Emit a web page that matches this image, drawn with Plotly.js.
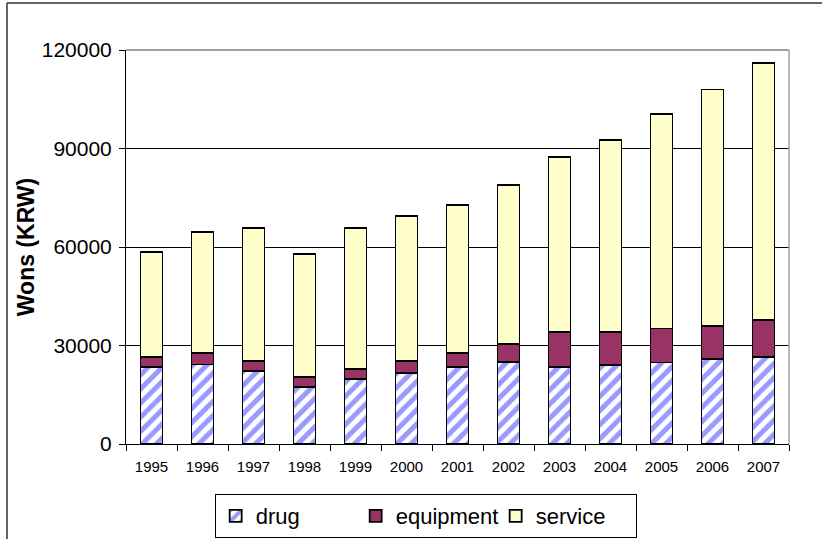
<!DOCTYPE html>
<html>
<head>
<meta charset="utf-8">
<script src="https://cdn.plot.ly/plotly-3.0.1.min.js"></script>
<style>html,body{margin:0;padding:0;background:#fff;}#chart{width:822px;height:539px;}</style>
</head>
<body>
<div id="chart"></div>
<script>
var years = ['1995','1996','1997','1998','1999','2000','2001','2002','2003','2004','2005','2006','2007'];
var drug = [23400,24200,22300,17300,19800,21700,23400,24900,23500,24100,24800,25900,26600];
var equipment = [3200,3500,3100,3200,3000,3600,4400,5500,10600,10000,10400,10000,11200];
var service = [31900,36900,40400,37300,43000,44200,44900,48400,53400,58500,65300,72100,78300];
var yTicks = [0,30000,60000,90000,120000];

var outline = {color:'#000000', width:1.8};
var traces = [
  {type:'bar', name:'drug', x:years, y:drug,
   marker:{color:'#ffffff', line:outline,
     pattern:{shape:'/', fgcolor:'#9999ff', bgcolor:'#ffffff', size:10, solidity:0.5}}},
  {type:'bar', name:'equipment', x:years, y:equipment,
   marker:{color:'#993366', line:outline}},
  {type:'bar', name:'service', x:years, y:service,
   marker:{color:'#ffffcc', line:outline}}
];

var layout = {
  width:822, height:539,
  margin:{l:126, r:33, t:50, b:95, autoexpand:false},
  paper_bgcolor:'#ffffff', plot_bgcolor:'#ffffff',
  barmode:'stack', bargap:0.57,
  font:{family:'Arial, Liberation Sans, sans-serif', color:'#000'},
  showlegend:true,
  legend:{orientation:'h', x:0.452, xanchor:'center', y:-0.127, yanchor:'top',
    bordercolor:'#000', borderwidth:1, font:{size:22}, traceorder:'normal',
    entrywidth:95, itemwidth:30},
  xaxis:{type:'category', showline:true, linecolor:'#000', linewidth:1,
    ticks:'outside', tickson:'boundaries', ticklen:6, tickcolor:'#000',
    tickfont:{size:15}, ticklabelstandoff:9, showgrid:false, fixedrange:true},
  yaxis:{range:[0,120000], tickvals:yTicks, ticktext:yTicks.map(String),
    showline:true, linecolor:'#000', linewidth:1,
    ticks:'outside', ticklen:6, tickcolor:'#000', ticklabelstandoff:3,
    showgrid:true, gridcolor:'#000', gridwidth:1, zeroline:false,
    tickfont:{size:21},
    title:{text:'<b>Wons (KRW)</b>', font:{size:23}, standoff:0}},
  shapes:[
    {type:'line', xref:'paper', yref:'paper', x0:0, x1:1, y0:1, y1:1, line:{color:'#808080', width:1.5}, layer:'above'},
    {type:'line', xref:'paper', yref:'paper', x0:1, x1:1, y0:0, y1:1, line:{color:'#a0a0a0', width:1.5}, layer:'above'},
    {type:'line', xref:'paper', yref:'paper', x0:-0.1795, x1:1.1, y0:1.119, y1:1.119, line:{color:'#333', width:1.5}},
    {type:'line', xref:'paper', yref:'paper', x0:-0.1795, x1:-0.1795, y0:1.119, y1:-0.3, line:{color:'#333', width:1.5}}
  ]
};

Plotly.newPlot('chart', traces, layout, {displayModeBar:false, staticPlot:true});
</script>
</body>
</html>
